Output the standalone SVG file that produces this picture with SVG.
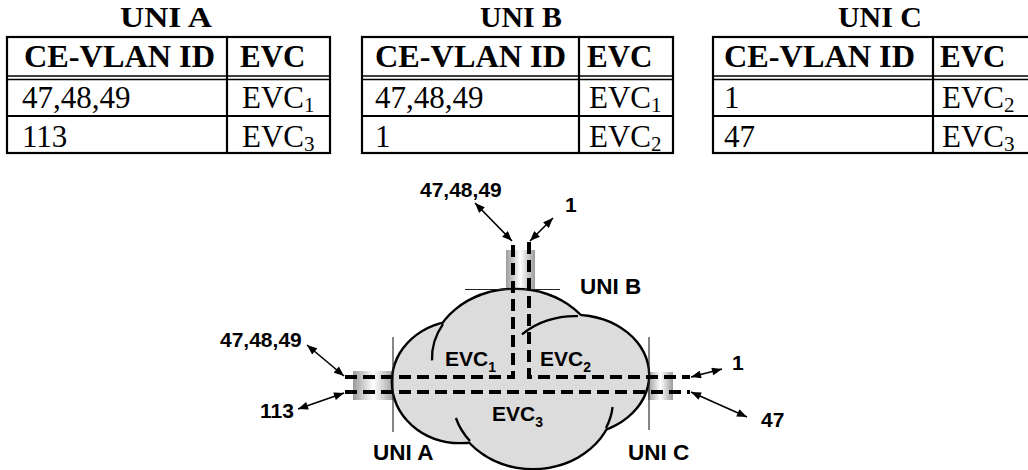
<svg xmlns="http://www.w3.org/2000/svg" width="1028" height="470" viewBox="0 0 1028 470">
<style>
.ttl{font-family:"Liberation Serif","Times New Roman",serif;font-weight:bold;font-size:29px;text-anchor:middle}
.hdr{font-family:"Liberation Serif","Times New Roman",serif;font-weight:bold;font-size:31px}
.cell{font-family:"Liberation Serif","Times New Roman",serif;font-size:31px}
.sub{font-size:21px}
.tb{fill:none;stroke:#000;stroke-width:2.2}
.dl{fill:none;stroke:#000;stroke-width:1.3}
.lbl{font-family:"Liberation Sans",Arial,sans-serif;font-weight:bold;font-size:21px}
.ulbl{font-family:"Liberation Sans",Arial,sans-serif;font-weight:bold;font-size:22.5px}
.lsub{font-size:14px}
.dash{fill:none;stroke:#000;stroke-width:4;stroke-dasharray:12 6}
.arr{fill:none;stroke:#000;stroke-width:1.6;marker-start:url(#ah);marker-end:url(#ah)}
.uni{fill:none;stroke:#222;stroke-width:1.1}
.pipe{fill:url(#pg)}
.lobeS{fill:none;stroke:#000;stroke-width:4.6}
.lobeF{fill:#dcdcdc;stroke:none}
.inner{fill:none;stroke:#000;stroke-width:2.3}
</style>
<defs>
<linearGradient id="pg" x1="0" y1="0" x2="1" y2="0">
<stop offset="0" stop-color="#9c9c9c"/>
<stop offset="0.5" stop-color="#ffffff"/>
<stop offset="1" stop-color="#9c9c9c"/>
</linearGradient>
<marker id="ah" viewBox="0 0 10 8" refX="10" refY="4" markerWidth="11" markerHeight="8" markerUnits="userSpaceOnUse" orient="auto-start-reverse">
<path d="M0,0 L10,4 L0,8 Z" fill="#000"/>
</marker>
</defs>
<rect width="1028" height="470" fill="#fff"/>

<g id="table-uni-a">
<text class="ttl" x="166" y="27" textLength="92" lengthAdjust="spacingAndGlyphs">UNI A</text>
<rect class="tb" x="7" y="37" width="323" height="116"/>
<line class="dl" x1="7" y1="76" x2="330" y2="76"/>
<line class="dl" x1="7" y1="79.5" x2="330" y2="79.5"/>
<line class="tb" x1="7" y1="116" x2="330" y2="116"/>
<line class="tb" x1="227" y1="37" x2="227" y2="153"/>
<text class="hdr" x="24" y="67" textLength="191" lengthAdjust="spacingAndGlyphs">CE-VLAN ID</text>
<text class="hdr" x="240" y="67">EVC</text>
<text class="cell" x="22" y="108">47,48,49</text>
<text class="cell" x="242" y="108">EVC<tspan class="sub" dy="4">1</tspan></text>
<text class="cell" x="22" y="147">113</text>
<text class="cell" x="242" y="147">EVC<tspan class="sub" dy="4">3</tspan></text>
</g>

<g id="table-uni-b">
<text class="ttl" x="521" y="27" textLength="82" lengthAdjust="spacingAndGlyphs">UNI B</text>
<rect class="tb" x="362" y="37" width="311" height="116"/>
<line class="dl" x1="362" y1="76" x2="673" y2="76"/>
<line class="dl" x1="362" y1="79.5" x2="673" y2="79.5"/>
<line class="tb" x1="362" y1="116" x2="673" y2="116"/>
<line class="tb" x1="579" y1="37" x2="579" y2="153"/>
<text class="hdr" x="375" y="67" textLength="191" lengthAdjust="spacingAndGlyphs">CE-VLAN ID</text>
<text class="hdr" x="587" y="67">EVC</text>
<text class="cell" x="375" y="108">47,48,49</text>
<text class="cell" x="589" y="108">EVC<tspan class="sub" dy="4">1</tspan></text>
<text class="cell" x="375" y="147">1</text>
<text class="cell" x="589" y="147">EVC<tspan class="sub" dy="4">2</tspan></text>
</g>

<g id="table-uni-c">
<text class="ttl" x="880" y="27" textLength="84" lengthAdjust="spacingAndGlyphs">UNI C</text>
<rect class="tb" x="713" y="37" width="320" height="116"/>
<line class="dl" x1="713" y1="76" x2="1033" y2="76"/>
<line class="dl" x1="713" y1="79.5" x2="1033" y2="79.5"/>
<line class="tb" x1="713" y1="116" x2="1033" y2="116"/>
<line class="tb" x1="933" y1="37" x2="933" y2="153"/>
<text class="hdr" x="724" y="67" textLength="191" lengthAdjust="spacingAndGlyphs">CE-VLAN ID</text>
<text class="hdr" x="940" y="67">EVC</text>
<text class="cell" x="724" y="108">1</text>
<text class="cell" x="942" y="108">EVC<tspan class="sub" dy="4">2</tspan></text>
<text class="cell" x="724" y="147">47</text>
<text class="cell" x="942" y="147">EVC<tspan class="sub" dy="4">3</tspan></text>
</g>

<g id="pipes">
<rect class="pipe" x="353" y="371" width="41" height="29"/>
<rect class="pipe" x="506" y="250" width="29" height="39"/>
<rect class="pipe" x="648" y="372" width="25" height="28"/>
</g>

<g id="cloud">
<ellipse class="lobeS" cx="515" cy="358" rx="83" ry="68"/>
<ellipse class="lobeS" cx="460" cy="382" rx="67" ry="60"/>
<ellipse class="lobeS" cx="575" cy="375" rx="73" ry="59"/>
<ellipse class="lobeS" cx="533" cy="400" rx="80" ry="68"/>
<ellipse class="lobeF" cx="515" cy="358" rx="83" ry="68"/>
<ellipse class="lobeF" cx="460" cy="382" rx="67" ry="60"/>
<ellipse class="lobeF" cx="575" cy="375" rx="73" ry="59"/>
<ellipse class="lobeF" cx="533" cy="400" rx="80" ry="68"/>
<path class="inner" d="M443,324.2 A83,68 0 0 0 432.05,360.4"/>
<path class="inner" d="M522,334.4 A73,59 0 0 1 578,316.1"/>
<path class="inner" d="M455.9,418 A80,68 0 0 0 470,441"/>
<path class="inner" d="M612.6,407 A80,68 0 0 1 606,428"/>
</g>

<g id="uni-a">
<line class="uni" x1="393" y1="337" x2="393" y2="432"/>
<text class="ulbl" x="373" y="460">UNI A</text>
</g>
<g id="uni-b">
<line class="uni" x1="465" y1="289.5" x2="560" y2="289.5"/>
<text class="ulbl" x="580" y="294">UNI B</text>
</g>
<g id="uni-c">
<line class="uni" x1="649" y1="337" x2="649" y2="430"/>
<text class="ulbl" x="628" y="460">UNI C</text>
</g>

<g id="evcs">
<path id="evc1" class="dash" d="M345,377 H513 V242"/>
<path id="evc2" class="dash" d="M529,242 V377 H690"/>
<path id="evc3" class="dash" d="M345,392 H690"/>
<text class="lbl" x="445" y="366">EVC<tspan class="lsub" dy="6">1</tspan></text>
<text class="lbl" x="540" y="366">EVC<tspan class="lsub" dy="6">2</tspan></text>
<text class="lbl" x="492" y="421">EVC<tspan class="lsub" dy="6">3</tspan></text>
</g>

<g id="connectors">
<line class="arr" x1="475" y1="203" x2="512" y2="241"/>
<line class="arr" x1="530" y1="241" x2="553" y2="218"/>
<line class="arr" x1="307" y1="345" x2="344" y2="376"/>
<line class="arr" x1="298" y1="409" x2="344" y2="393"/>
<line class="arr" x1="691" y1="377" x2="722" y2="369"/>
<line class="arr" x1="691" y1="392" x2="747" y2="417"/>
</g>

<g id="ce-vlan-labels">
<text class="lbl" x="420" y="197">47,48,49</text>
<text class="lbl" x="565" y="212">1</text>
<text class="lbl" x="220" y="347">47,48,49</text>
<text class="lbl" x="260" y="418">113</text>
<text class="lbl" x="732" y="370">1</text>
<text class="lbl" x="761" y="427">47</text>
</g>
</svg>
